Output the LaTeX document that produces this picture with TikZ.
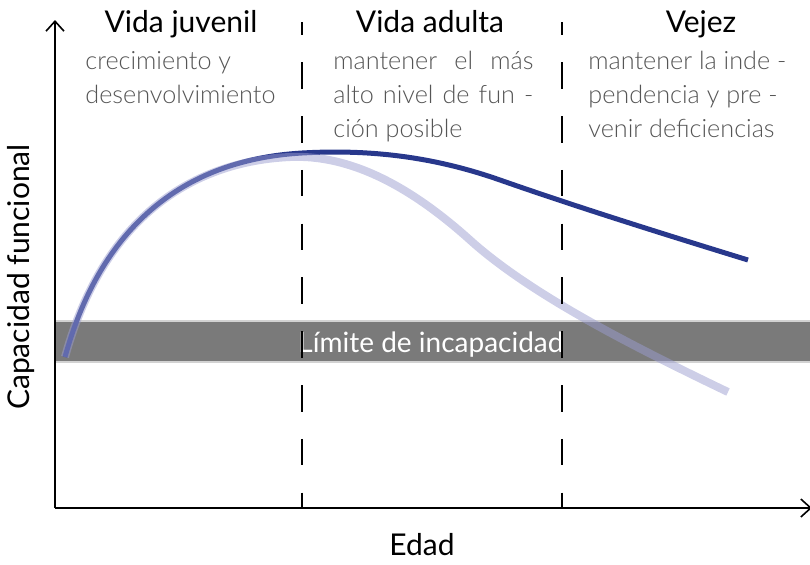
\documentclass[tikz,border=0pt]{standalone}
\usepackage{fontspec}
\setmainfont{Lato}
\newfontfamily\lightfont{Lato Light}
\usetikzlibrary{arrows.meta,positioning}
\definecolor{lifenavy}{RGB}{40,56,140}
\definecolor{lifepale}{RGB}{155,157,208}
\definecolor{bandgray}{RGB}{122,122,122}
\definecolor{notegray}{RGB}{85,85,85}
\newcommand{\spreadline}[1]{\makebox[100pt][s]{#1}}

\begin{document}
\begin{tikzpicture}[
    x=0.5pt, y=-0.5pt,
    axis/.style={-{Straight Barb[length=5pt,width=9pt]},line width=0.8pt},
    divider/.style={line width=0.9pt,dash pattern=on 13.3pt off 13.6pt,dash phase=6.8pt},
    stage/.style={anchor=base,inner sep=0pt,font=\fontsize{15}{18}\selectfont},
    note/.style={anchor=north west,inner sep=0pt,align=left,text=notegray,
        font=\lightfont\fontsize{12.6}{17}\selectfont},
    axislabel/.style={inner sep=0pt,font=\fontsize{15}{18}\selectfont},
    real/.style={lifenavy,line width=2.5pt},
    ideal/.style={lifepale,opacity=0.5,line width=4pt}
]
    \useasboundingbox (0,0) rectangle (810,564);
    \coordinate (O) at (55,508);
    \coordinate (ytip) at (55,20);
    \coordinate (xtip) at (812,508);
    \coordinate (d1top) at (302,22);
    \coordinate (d1bot) at (302,508);
    \coordinate (d2top) at (562,22);
    \coordinate (d2bot) at (562,508);

    \fill[bandgray] (55,321) rectangle (810,362);
    \draw[gray!35,line width=0.6pt] (55,321) -- (810,321) (55,362) -- (810,362);
    \node (limit) [stage,text=white,font=\fontsize{14}{17}\selectfont] at (431,352) {Límite de incapacidad};

    \draw[real] (65,357) .. controls (100,230) and (180,160) .. (302,153)
        .. controls (380,148.5) and (443,160) .. (500,180)
        .. controls (580,208) and (670,236) .. (748,260);
    \draw[ideal] (65,357) .. controls (100,230) and (180,162) .. (290,157)
        .. controls (350,154.3) and (410,186) .. (470,240)
        .. controls (530,294) and (630,345) .. (728,392);

    \draw[divider] (d1top) -- (d1bot);
    \draw[divider] (d2top) -- (d2bot);
    \draw[axis] (O) -- (ytip);
    \draw[axis] (O) -- (xtip);

    \node (juvenil) [stage] at (181,32) {Vida juvenil};
    \node (adulta) [stage] at (430,32) {Vida adulta};
    \node (vejez) [stage] at (701,32) {Vejez};

    \node (njuvenil) [note] at (85,51) {crecimiento y\\desenvolvimiento};
    \node (nadulta) [note] at (333,51) {\spreadline{mantener el más}\\\spreadline{alto nivel de fun -}\\ción posible};
    \node (nvejez) [note] at (588,51) {mantener la inde -\\pendencia y pre -\\venir deficiencias};

    \node (ylabel) [axislabel,rotate=90] at (21,277) {Capacidad funcional};
    \node (xlabel) [axislabel,anchor=base] at (422,555) {Edad};
\end{tikzpicture}
\end{document}
